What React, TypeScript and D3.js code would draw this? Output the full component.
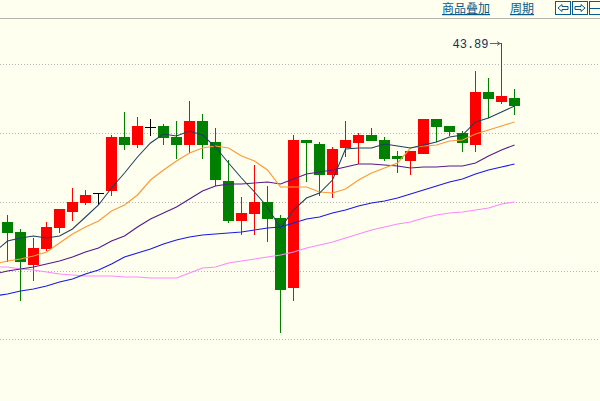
import React from "react";
import * as d3 from "d3";

const opens = [40.31,40.11,39.45,39.77,40.19,40.51,40.69,40.88,40.93,42.01,41.85,42.22,42.23,42.01,41.85,42.33,41.91,41.13,40.33,40.47,40.71,40.39,38.99,41.95,41.87,41.25,41.79,41.89,42.05,41.95,41.63,41.53,41.67,42.37,42.23,42.09,41.85,42.91,42.71,42.79];
const closes = [40.09,39.51,39.79,40.21,40.57,40.71,40.85,40.88,42.01,41.85,42.23,42.22,41.99,41.85,42.33,41.85,41.15,40.33,40.49,40.71,40.37,38.95,41.95,41.89,41.25,41.77,41.95,42.05,41.93,41.57,41.57,41.73,42.37,42.21,42.11,41.89,42.91,42.77,42.83,42.63];
const highs = [40.45,40.17,39.99,40.31,40.57,40.99,40.95,40.89,42.05,42.51,42.41,42.37,42.27,42.33,42.73,42.47,42.19,41.55,40.81,41.45,41.03,40.45,42.05,41.95,41.91,41.81,42.33,42.09,42.19,42.01,41.73,41.73,42.37,42.37,42.23,42.13,43.33,43.19,43.89,42.97];
const lows = [39.51,38.73,39.13,39.73,40.09,40.33,40.65,40.65,40.83,41.75,41.79,42.03,41.85,41.57,41.69,41.57,41.03,40.29,40.05,40.05,39.91,38.09,38.73,41.11,40.83,40.79,41.61,41.47,41.93,41.53,41.29,41.25,41.67,41.91,42.03,41.71,41.71,42.39,42.67,42.45];

// Moving averages: first value belongs to the session just left of the visible window.
const ma5 = [39.71,39.93,39.99,40.03,39.99,40.03,40.17,40.41,40.65,40.99,41.29,41.61,41.89,42.07,42.03,42.13,42.05,41.81,41.49,41.19,40.91,40.61,40.19,40.55,40.79,40.89,41.15,41.77,41.79,41.79,41.87,41.83,41.79,41.85,41.91,42.01,42.05,42.31,42.39,42.51,42.63];
const ma10 = [39.47,39.53,39.57,39.63,39.71,39.89,40.07,40.21,40.33,40.53,40.65,40.85,41.15,41.35,41.53,41.69,41.79,41.83,41.79,41.63,41.53,41.35,41.01,41.01,41.01,40.91,40.89,40.97,41.15,41.29,41.39,41.49,41.79,41.83,41.85,41.93,41.95,42.07,42.15,42.23,42.31];
const ma20 = [39.27,39.33,39.37,39.41,39.47,39.53,39.61,39.71,39.79,39.93,40.03,40.21,40.37,40.49,40.61,40.77,40.93,41.03,41.07,41.07,41.09,41.11,41.07,41.17,41.27,41.31,41.35,41.41,41.47,41.47,41.45,41.43,41.39,41.41,41.41,41.43,41.43,41.49,41.63,41.75,41.85];
const ma40 = [38.83,38.87,38.93,38.97,39.03,39.11,39.17,39.27,39.35,39.47,39.61,39.69,39.77,39.87,39.95,40.01,40.05,40.07,40.09,40.11,40.15,40.19,40.21,40.29,40.37,40.41,40.49,40.55,40.63,40.69,40.73,40.79,40.87,40.95,41.03,41.11,41.17,41.27,41.35,41.41,41.47];
const ma60 = [39.41,39.41,39.37,39.35,39.31,39.27,39.25,39.23,39.23,39.23,39.21,39.21,39.19,39.19,39.19,39.29,39.39,39.41,39.49,39.53,39.57,39.61,39.65,39.71,39.79,39.85,39.91,39.99,40.07,40.15,40.21,40.27,40.31,40.39,40.45,40.49,40.51,40.55,40.59,40.67,40.71];

const gridPrices = [43.47, 42.09, 40.71, 39.33, 37.97];
const maxLabel = "43.89";
const menuLabels = ["商品叠加", "周期"];

const UP = "#ff0000";
const DOWN = "#008000";
const LINK = "#0b5a8c";

const x = d3.scaleLinear().domain([0, 39]).range([7.5, 514.5]);
const y = d3.scaleLinear().domain([43.89, 38.09]).range([43, 333]);
const maLine = d3
  .line<number>()
  .x((_, i) => x(i - 1))
  .y((d) => y(d));

const maSeries: [number[], string, number][] = [
  [ma60, "#ff88ff", 1.15],
  [ma40, "#1a1ae6", 1.15],
  [ma20, "#551a8b", 1.15],
  [ma10, "#ff9933", 1.15],
  [ma5, "#1f3f5f", 1.05],
];

const R = Math.round;

export default function App() {
  const peak = highs.indexOf(d3.max(highs) as number);
  return (
    <svg
      width={600}
      height={401}
      style={{ position: "absolute", left: 0, top: 0, background: "#fffff0" }}
    >
      <rect x={0} y={18} width={600} height={1} fill="#b4b4b4" shapeRendering="crispEdges" />
      {gridPrices.map((g) => (
        <line
          key={g}
          x1={0}
          x2={600}
          y1={R(y(g)) + 0.5}
          y2={R(y(g)) + 0.5}
          stroke="#b4b4b4"
          strokeDasharray="1 2"
          shapeRendering="crispEdges"
        />
      ))}
      {opens.map((o, i) => {
        const c = closes[i];
        const col = c > o ? UP : c < o ? DOWN : "#000000";
        const cx = x(i);
        const top = R(y(Math.max(o, c)));
        const bottom = R(y(Math.min(o, c)));
        return (
          <g key={i} fill={col} shapeRendering="crispEdges">
            <rect x={cx - 0.5} y={R(y(highs[i]))} width={1} height={R(y(lows[i])) - R(y(highs[i]))} />
            <rect x={cx - 5.5} y={top} width={11} height={Math.max(1, bottom - top)} />
          </g>
        );
      })}
      {maSeries.map(([s, col, w]) => (
        <path key={col} d={maLine(s) as string} fill="none" stroke={col} strokeWidth={w} />
      ))}
      <text x={452.5} y={47.5} fontFamily="'Liberation Mono', monospace" fontSize={12} fill="#12305c">
        {maxLabel}
      </text>
      <g stroke="#666666" fill="none" shapeRendering="crispEdges">
        <line x1={490} x2={x(peak) - 0.5} y1={43.5} y2={43.5} />
        <path d={`M${x(peak) - 4.5},41.5 L${x(peak) - 1.5},43.5 L${x(peak) - 4.5},45.5`} shapeRendering="auto" />
      </g>
      <g fontFamily="'Noto Sans CJK SC', sans-serif" fontSize={12} fill={LINK} textDecoration="underline">
        <text x={442} y={13}>{menuLabels[0]}</text>
        <text x={510} y={13}>{menuLabels[1]}</text>
      </g>
      <g fill="none" stroke={LINK} shapeRendering="crispEdges">
        <rect x={555.5} y={1.5} width={15} height={13} />
        <rect x={572.5} y={1.5} width={15} height={13} />
        <rect x={589.5} y={1.5} width={15} height={13} />
        <line x1={589} x2={600} y1={8.5} y2={8.5} />
        <path d="M558,8 L562,4.5 V6.5 H568 V9.5 H562 V11.5 Z" shapeRendering="auto" />
        <path d="M585,8 L581,4.5 V6.5 H575 V9.5 H581 V11.5 Z" shapeRendering="auto" />
      </g>
    </svg>
  );
}
